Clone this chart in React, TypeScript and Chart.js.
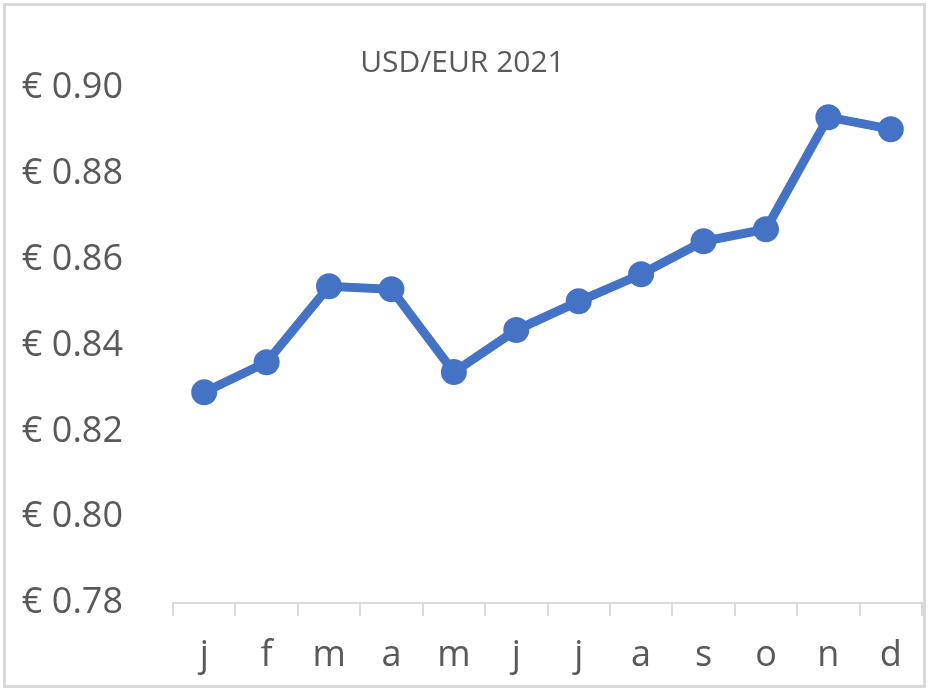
import React, { useEffect, useRef } from "react";
import Chart from "chart.js/auto";

const months = ["j", "f", "m", "a", "m", "j", "j", "a", "s", "o", "n", "d"];
const usdEur = [0.8291, 0.8361, 0.8538, 0.8531, 0.8338, 0.8436, 0.8503, 0.8566, 0.8643, 0.8671, 0.8932, 0.8904];
const yTicks = [0.78, 0.8, 0.82, 0.84, 0.86, 0.88, 0.9];

const FONT = "'Open Sans', sans-serif";
const TEXT = "#595959";
const LINE = "#d9d9d9";

// draws the light grey frame around the whole chart
const framePlugin = {
  id: "frame",
  beforeDraw(chart: any) {
    const ctx = chart.ctx;
    ctx.save();
    ctx.strokeStyle = LINE;
    ctx.lineWidth = 3;
    ctx.strokeRect(4.5, 4.5, 920, 682);
    ctx.restore();
  },
};

const App = () => {
  const chartRef = useRef<any>(null);

  useEffect(() => {
    const ctx = chartRef.current.getContext("2d");
    const myChart = new Chart(ctx, {
      type: "line",
      data: {
        labels: months,
        datasets: [
          {
            label: "USD/EUR 2021",
            data: usdEur,
            borderColor: "#4472C4",
            backgroundColor: "#4472C4",
            borderWidth: 9,
            pointRadius: 13,
            pointBorderWidth: 0,
            pointBackgroundColor: "#4472C4",
            fill: false,
            tension: 0,
          },
        ],
      },
      options: {
        animation: false,
        responsive: false,
        layout: { padding: { left: 0, right: 10, top: 0, bottom: 0 } },
        plugins: {
          legend: { display: false },
          tooltip: { enabled: false },
          title: {
            display: true,
            text: "USD/EUR 2021",
            color: TEXT,
            font: { family: FONT, size: 30, weight: "normal" },
            padding: { top: 45, bottom: 7 },
          },
        },
        scales: {
          x: {
            offset: true,
            grid: {
              display: true,
              offset: true,
              drawOnChartArea: false,
              drawTicks: true,
              tickLength: 13,
              color: LINE,
              lineWidth: 2,
            },
            border: { display: true, color: LINE, width: 2 },
            ticks: {
              color: TEXT,
              font: { family: FONT, size: 36 },
              padding: 18,
              autoSkip: false,
              maxRotation: 0,
            },
            afterFit: (scale: any) => {
              scale.height = 93;
            },
          },
          y: {
            min: 0.78,
            max: 0.9,
            grid: { display: false, drawTicks: false },
            border: { display: false },
            afterBuildTicks: (scale: any) => {
              scale.ticks = yTicks.map((v) => ({ value: v }));
            },
            ticks: {
              color: TEXT,
              font: { family: FONT, size: 36 },
              padding: 50,
              callback: (v: any) => "€ " + Number(v).toFixed(2),
            },
            afterFit: (scale: any) => {
              scale.width = 173;
            },
          },
        },
      },
      plugins: [framePlugin],
    });

    return () => {
      myChart.destroy();
    };
  }, []);

  return (
    <div style={{ position: "absolute", left: 0, top: 0, width: 935, height: 696, background: "#fff" }}>
      <canvas ref={chartRef} width="935" height="696"></canvas>
    </div>
  );
};

export default App;
